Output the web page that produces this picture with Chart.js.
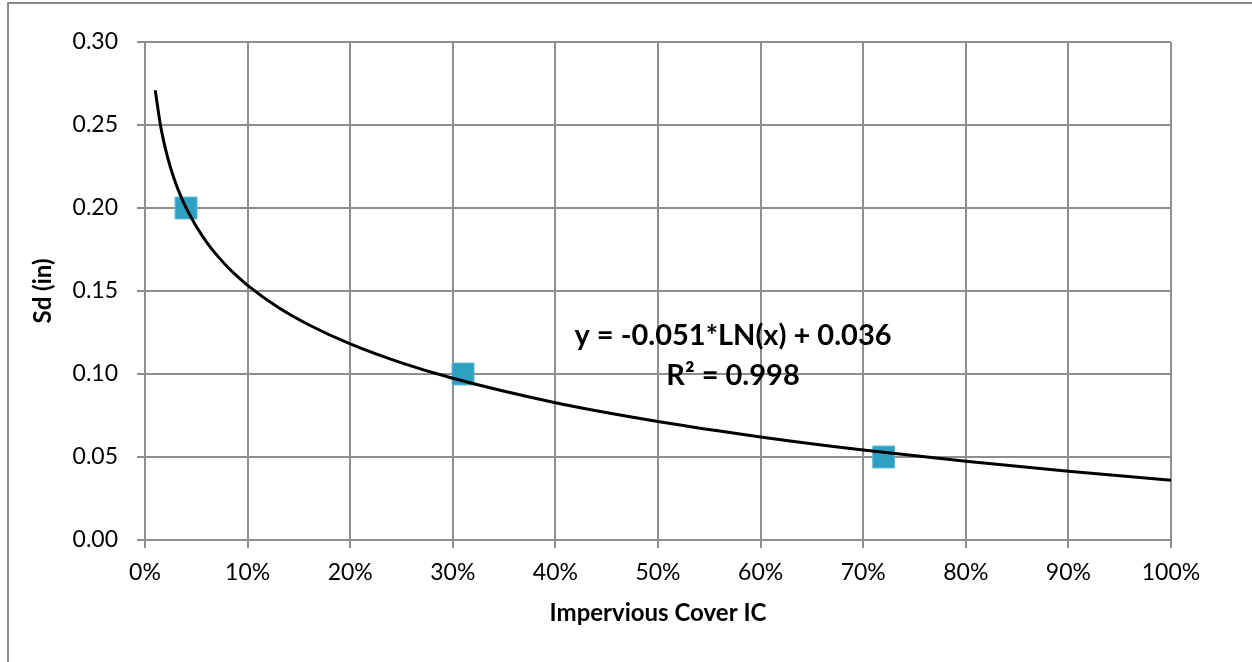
<!DOCTYPE html>
<html>
<head>
<meta charset="utf-8">
<script src="https://cdn.jsdelivr.net/npm/chart.js@4.4.1/dist/chart.umd.min.js"></script>
<style>
  html, body { margin: 0; padding: 0; background: #fff; }
  #frame { position: absolute; left: 7px; top: 2px; width: 1300px; height: 700px;
           border-left: 2px solid #8c8c8c; border-top: 2px solid #8c8c8c; }
  #wrap { position: absolute; left: 0; top: 0; width: 1252px; height: 662px; }
</style>
</head>
<body>
<div id="frame"></div>
<div id="wrap"><canvas id="c" width="1252" height="662"></canvas></div>
<script>
// measured points (impervious cover fraction vs Sd)
var icValues = [0.04, 0.31, 0.72];
var sdValues = [0.20, 0.10, 0.05];

// log trendline
var trendX = [0.01, 0.015, 0.02, 0.025, 0.03, 0.035, 0.04, 0.05, 0.06, 0.07, 0.08, 0.09, 0.10, 0.13, 0.16, 0.20, 0.25, 0.30, 0.40, 0.50, 0.60, 0.70, 0.80, 0.90, 1.00];
var trendY = [0.2709, 0.2502, 0.2355, 0.2241, 0.2148, 0.2070, 0.2002, 0.1888, 0.1795, 0.1716, 0.1648, 0.1588, 0.1534, 0.1400, 0.1295, 0.1181, 0.1067, 0.0974, 0.0827, 0.0714, 0.0621, 0.0542, 0.0474, 0.0414, 0.0360];

var eqLines = ['y = -0.051*LN(x) + 0.036', 'R\u00b2 = 0.998'];
var xTitle = 'Impervious Cover IC';
var yTitle = 'Sd (in)';

var FONT = 'Lato, "Open Sans", sans-serif';
var gridColor = '#8e8e8e';

function toPoints(xs, ys) {
  var pts = [];
  for (var i = 0; i < xs.length; i++) pts.push({ x: xs[i], y: ys[i] });
  return pts;
}

// draws the trendline equation label
var eqLabel = {
  id: 'eqLabel',
  afterDatasetsDraw: function(chart) {
    var ctx = chart.ctx;
    ctx.save();
    ctx.font = 'bold 29px ' + FONT;
    ctx.fillStyle = '#000';
    ctx.textAlign = 'center';
    ctx.textBaseline = 'middle';
    ctx.fillText(eqLines[0], 733, 336);
    ctx.fillText(eqLines[1], 733, 376);
    ctx.restore();
  }
};

new Chart(document.getElementById('c'), {
  type: 'scatter',
  data: {
    datasets: [
      {
        label: 'Trend',
        type: 'line',
        data: toPoints(trendX, trendY),
        borderColor: '#000',
        borderWidth: 3,
        pointRadius: 0,
        fill: false,
        cubicInterpolationMode: 'monotone',
        order: 1
      },
      {
        label: 'Sd',
        data: toPoints(icValues, sdValues),
        pointStyle: 'rect',
        pointRadius: 15.5,
        backgroundColor: '#2ea0c1',
        borderColor: '#5fb8d2',
        borderWidth: 1,
        order: 2
      }
    ]
  },
  options: {
    responsive: false,
    animation: false,
    layout: { padding: { left: 0, top: 42, right: 81, bottom: 0 } },
    plugins: { legend: { display: false }, tooltip: { enabled: false } },
    scales: {
      x: {
        type: 'linear',
        min: 0, max: 1,
        afterFit: function(s) { s.height = 122; },
        ticks: {
          stepSize: 0.1,
          color: '#000',
          font: { family: FONT, size: 23 },
          padding: 11,
          maxRotation: 0,
          callback: function(v) { return Math.round(v * 100) + '%'; }
        },
        grid: { color: gridColor, lineWidth: 2, tickLength: 8 },
        border: { color: gridColor, width: 2 },
        title: {
          display: true, text: xTitle, color: '#000',
          font: { family: FONT, size: 24, weight: 'bold' },
          padding: { top: 0, bottom: 34 }
        }
      },
      y: {
        type: 'linear',
        min: 0, max: 0.3,
        afterFit: function(s) { s.width = 145; },
        ticks: {
          stepSize: 0.05,
          color: '#000',
          font: { family: FONT, size: 23 },
          padding: 19,
          callback: function(v) { return v.toFixed(2); }
        },
        grid: { color: gridColor, lineWidth: 2, tickLength: 8 },
        border: { color: gridColor, width: 2 },
        title: {
          display: true, text: yTitle, color: '#000',
          font: { family: FONT, size: 24, weight: 'bold' },
          padding: { top: 29, bottom: 0 }
        }
      }
    }
  },
  plugins: [eqLabel]
});
</script>
</body>
</html>
